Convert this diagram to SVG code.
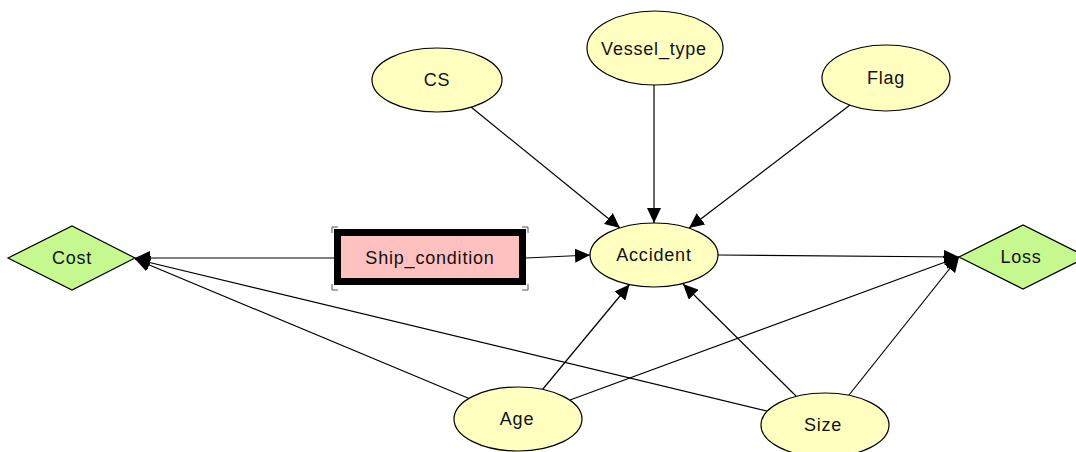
<svg xmlns="http://www.w3.org/2000/svg" width="1076" height="452" viewBox="0 0 1076 452">
<style>
.chance{fill:#ffffc0;stroke:#000;stroke-width:1.2}
.util{fill:#c6f890;stroke:#000;stroke-width:1.2}
.lbl{font-family:"Liberation Sans",Arial,sans-serif;font-size:18px;letter-spacing:0.8px;fill:#111;text-anchor:middle}
.edge{stroke:#000;stroke-width:1.2;fill:none;marker-end:url(#arr)}
.br{stroke:#555;stroke-width:1;fill:none}
</style>
<defs>
<marker id="arr" markerUnits="userSpaceOnUse" markerWidth="16" markerHeight="14" refX="15" refY="7" orient="auto">
<path d="M0,0 L15,7 L0,14 z" fill="#000"/>
</marker>
</defs>
<rect width="1076" height="452" fill="#fff"/>
<g id="connectors">
<line class="edge" x1="471" y1="107" x2="620" y2="228"/>
<line class="edge" x1="654" y1="85" x2="654" y2="223"/>
<line class="edge" x1="850" y1="105" x2="689" y2="228"/>
<line class="edge" x1="526" y1="258" x2="590" y2="255"/>
<line class="edge" x1="334" y1="258" x2="135" y2="258"/>
<line class="edge" x1="718" y1="255" x2="959" y2="257"/>
<line class="edge" x1="542.5" y1="389.5" x2="629.5" y2="284.5"/>
<line class="edge" x1="796" y1="396" x2="683" y2="284"/>
<line class="edge" x1="469" y1="398.5" x2="135" y2="259"/>
<line class="edge" x1="767" y1="411" x2="135" y2="259"/>
<line class="edge" x1="570" y1="400" x2="959" y2="257"/>
<line class="edge" x1="849" y1="395" x2="959" y2="257"/>
</g>
<g id="CS"><ellipse class="chance" cx="437" cy="80" rx="65" ry="32"/><text class="lbl" x="437" y="86">CS</text></g>
<g id="Vessel_type"><ellipse class="chance" cx="655" cy="48" rx="68" ry="37"/><text class="lbl" x="654" y="55">Vessel_type</text></g>
<g id="Flag"><ellipse class="chance" cx="886" cy="78" rx="64" ry="33"/><text class="lbl" x="886" y="84">Flag</text></g>
<g id="Accident"><ellipse class="chance" cx="654" cy="255" rx="64" ry="32"/><text class="lbl" x="654" y="261">Accident</text></g>
<g id="Ship_condition">
<rect x="337.5" y="232.5" width="185" height="49" fill="#ffc0c0" stroke="#000" stroke-width="7"/>
<path class="br" d="M332,233 V227 H338 M522,227 H528 V233 M332,284 V290 H338 M522,290 H528 V284"/>
<text class="lbl" x="430" y="264">Ship_condition</text>
</g>
<g id="Cost"><polygon class="util" points="8,258 72,226 135,258 72,290"/><text class="lbl" x="72" y="264">Cost</text></g>
<g id="Loss"><polygon class="util" points="959,257 1023,225 1087,257 1023,289"/><text class="lbl" x="1021" y="263">Loss</text></g>
<g id="Age"><ellipse class="chance" cx="518" cy="419" rx="64" ry="32"/><text class="lbl" x="517" y="425">Age</text></g>
<g id="Size"><ellipse class="chance" cx="825" cy="425" rx="64" ry="32"/><text class="lbl" x="823" y="431">Size</text></g>
</svg>
